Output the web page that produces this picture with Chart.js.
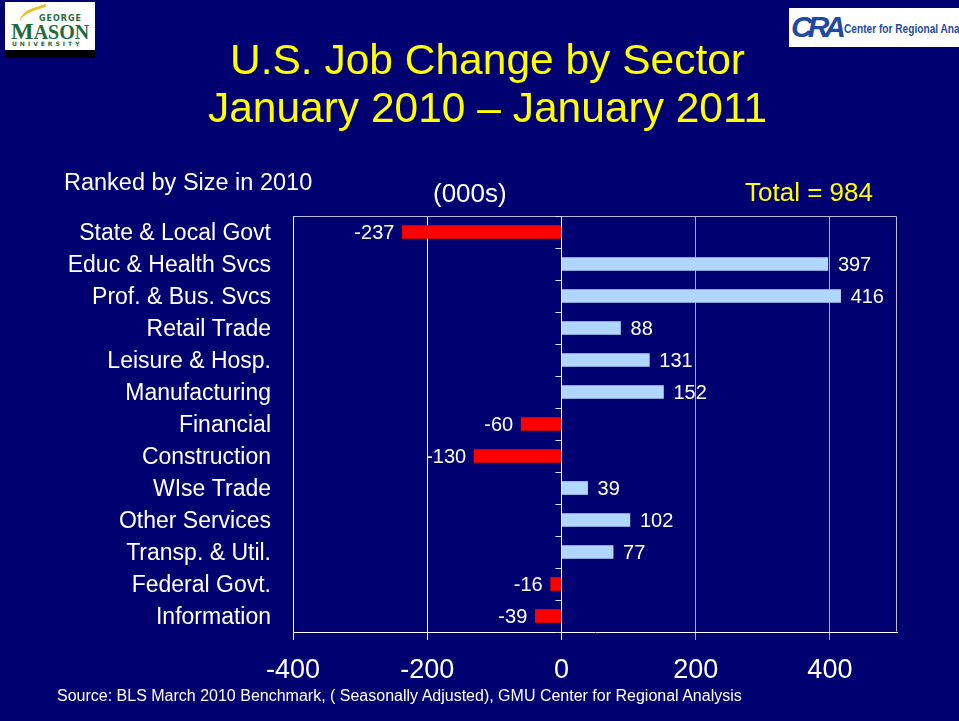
<!DOCTYPE html>
<html>
<head>
<meta charset="utf-8">
<script src="https://cdn.jsdelivr.net/npm/chart.js@4.4.1/dist/chart.umd.min.js"></script>
<style>
  html, body { margin: 0; padding: 0; }
  body { width: 959px; height: 721px; background: #000070; position: relative; overflow: hidden;
         font-family: "Liberation Sans", Arial, sans-serif; color: #fff; }
  #wrap { position: absolute; left: 0; top: 0; width: 959px; height: 721px; }
  .txt { position: absolute; white-space: nowrap; }
  #title { left: 0; width: 975px; top: 36px; text-align: center; color: #ffff00; font-size: 42.5px; line-height: 48px; }
  #gmu { left: 5px; top: 2px; width: 90px; height: 48px; background: #fff; border-bottom: 8px solid #000; }
  #cra { left: 789px; top: 8px; width: 170px; height: 39px; background: #fff; overflow: hidden; }
</style>
</head>
<body>
<div id="wrap"><canvas id="jobChart" width="959" height="721"></canvas></div>

<div class="txt" id="gmu">
  <div style="position:absolute;left:14px;top:6px;width:30px;height:14px;border-top:3px solid #e8c020;border-radius:60% 0 0 0;transform:rotate(-18deg);"></div>
  <div style="position:absolute;left:34px;top:12px;font:bold 8px 'DejaVu Sans';color:#1e6b3c;letter-spacing:1px;">GEORGE</div>
  <div style="position:absolute;left:6px;top:16px;font:bold 24px 'Liberation Serif';color:#1e6b3c;">M<span style="font-size:20px">ASON</span></div>
  <div style="position:absolute;left:7px;top:38px;font:bold 6px 'DejaVu Sans';color:#1e6b3c;letter-spacing:3px;">UNIVERSITY</div>
</div>
<div class="txt" id="cra">
  <div style="position:absolute;left:2px;top:2px;font:italic bold 30px 'Liberation Sans';color:#1f4aa0;letter-spacing:-5px;">CRA</div>
  <div style="position:absolute;left:55px;top:13px;font:bold 13px 'Liberation Sans Narrow','Liberation Sans';color:#1f4aa0;transform:scaleX(0.78);transform-origin:left top;">Center for Regional Analysis</div>
</div>

<div class="txt" id="title">U.S. Job Change by Sector<br>January 2010 &ndash; January 2011</div>
<div class="txt" style="left:64px; top:169px; font-size:23.5px;">Ranked by Size in 2010</div>
<div class="txt" style="left:433px; top:178px; font-size:26px;">(000s)</div>
<div class="txt" style="left:745px; top:177px; font-size:26px; color:#ffff00;">Total = 984</div>
<div class="txt" style="left:57px; top:687px; font-size:16px;">Source: BLS March 2010 Benchmark, ( Seasonally Adjusted), GMU Center for Regional Analysis</div>

<script>
const sectors = ['State & Local Govt', 'Educ & Health Svcs', 'Prof. & Bus. Svcs', 'Retail Trade',
  'Leisure & Hosp.', 'Manufacturing', 'Financial', 'Construction', 'WIse Trade',
  'Other Services', 'Transp. & Util.', 'Federal Govt.', 'Information'];
const jobChange = [-237, 397, 416, 88, 131, 152, -60, -130, 39, 102, 77, -16, -39];
const xTicks = [-400, -200, 0, 200, 400];

const barColors = jobChange.map(v => v < 0 ? '#ff0000' : '#b0d8ff');

// value labels next to bar ends, category tick marks on the zero line, plot frame
const overlay = {
  id: 'overlay',
  afterDatasetsDraw(chart) {
    const c = chart.ctx;
    const xs = chart.scales.x;
    const area = chart.chartArea;
    const x0 = xs.getPixelForValue(0);
    c.save();
    // frame
    c.strokeStyle = '#b8b8d8';
    c.lineWidth = 1;
    c.beginPath();
    c.moveTo(area.left + 0.5, area.top + 0.5);
    c.lineTo(area.right - 0.5, area.top + 0.5);
    c.lineTo(area.right - 0.5, area.bottom - 0.5);
    c.stroke();
    // category separator ticks on zero line
    c.strokeStyle = '#e0e0f0';
    c.beginPath();
    for (let i = 0; i <= sectors.length; i++) {
      const y = Math.round(area.top + (area.bottom - area.top) * i / sectors.length) + 0.5;
      c.moveTo(x0 - 6, y);
      c.lineTo(x0, y);
    }
    c.stroke();
    // value labels
    c.fillStyle = '#ffffff';
    c.font = '20px "Liberation Sans", Arial, sans-serif';
    c.textBaseline = 'middle';
    chart.getDatasetMeta(0).data.forEach((bar, i) => {
      const v = jobChange[i];
      if (v < 0) {
        c.textAlign = 'right';
        c.fillText(String(v), bar.x - 8, bar.y + 1);
      } else {
        c.textAlign = 'left';
        c.fillText(String(v), bar.x + 10, bar.y + 1);
      }
    });
    c.restore();
  }
};

const ctx = document.getElementById('jobChart').getContext('2d');
new Chart(ctx, {
  type: 'bar',
  data: {
    labels: sectors,
    datasets: [{
      data: jobChange,
      backgroundColor: barColors,
      borderWidth: 0,
      barThickness: 13
    }]
  },
  options: {
    indexAxis: 'y',
    responsive: false,
    animation: false,
    events: [],
    layout: { padding: { top: 216, right: 62, left: 0, bottom: 0 } },
    plugins: { legend: { display: false }, tooltip: { enabled: false } },
    scales: {
      x: {
        min: -400,
        max: 500,
        afterBuildTicks: scale => { scale.ticks = xTicks.map(v => ({ value: v })); },
        afterFit: scale => { scale.height = 89; },
        grid: {
          color: ctx => (ctx.tick && ctx.tick.value > 0) ? '#a8a8d0' : '#ffffff',
          lineWidth: 1,
          tickLength: 8,
          drawOnChartArea: true
        },
        border: { display: true, color: '#ffffff' },
        ticks: {
          color: '#ffffff',
          padding: 14,
          maxRotation: 0,
          font: { family: '"Liberation Sans", Arial, sans-serif', size: 27 }
        }
      },
      y: {
        afterFit: scale => { scale.width = 293; },
        grid: { display: false },
        border: { display: false },
        ticks: {
          color: '#ffffff',
          padding: 14,
          labelOffset: 2,
          autoSkip: false,
          font: { family: '"Liberation Sans", Arial, sans-serif', size: 23 }
        }
      }
    }
  },
  plugins: [overlay]
});
</script>
</body>
</html>
